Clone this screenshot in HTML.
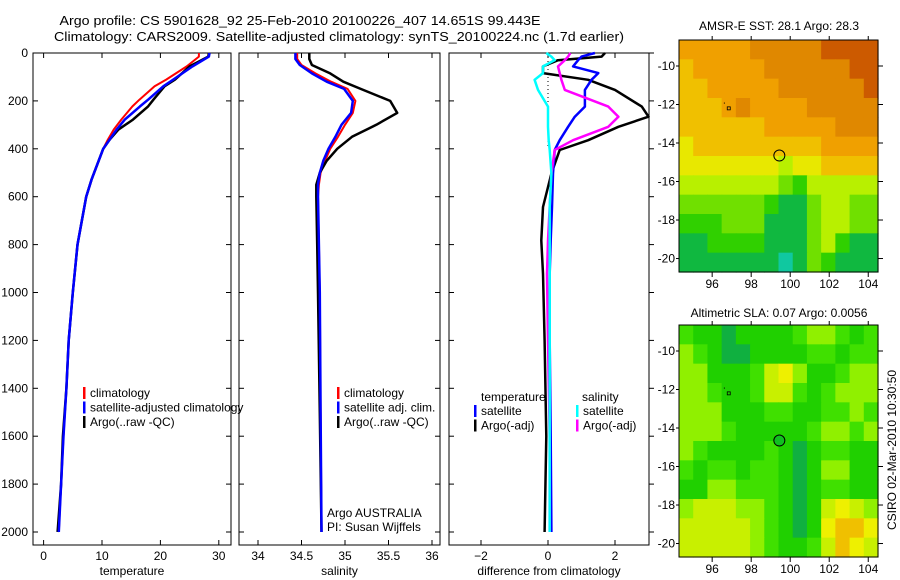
<!DOCTYPE html>
<html><head><meta charset="utf-8"><style>
html,body{margin:0;padding:0;background:#fff;}
svg{display:block;font-family:"Liberation Sans",sans-serif;}
text{font-size:12px;fill:#000;}
</style></head><body>
<svg id="fig" width="900" height="580" viewBox="0 0 900 580">
<text x="300" y="25" text-anchor="middle" textLength="481" lengthAdjust="spacingAndGlyphs" style="font-size:13px">Argo profile: CS 5901628_92 25-Feb-2010 20100226_407 14.651S 99.443E</text>
<text x="339" y="41" text-anchor="middle" textLength="570" lengthAdjust="spacingAndGlyphs" style="font-size:13px">Climatology: CARS2009. Satellite-adjusted climatology: synTS_20100224.nc (1.7d earlier)</text>
<g id="plots"></g>
<text x="779" y="30" text-anchor="middle">AMSR-E SST: 28.1 Argo: 28.3</text>
<text x="779" y="317" text-anchor="middle">Altimetric SLA: 0.07 Argo: 0.0056</text>
<text transform="translate(896,450) rotate(-90)" text-anchor="middle">CSIRO 02-Mar-2010 10:30:50</text>
</svg>
<script>
// ---- data ----
const tDepths=[0,15,56,111,139,195,223,278,320,362,400,529,600,800,1000,1200,1400,1600,1800,2000];
const tArgo=[28.3,28.2,25.0,22.5,20.7,18.8,17.9,15.3,12.8,11.3,10.2,8.2,7.3,5.8,5.0,4.3,3.9,3.3,3.0,2.4];
const tClim=[26.6,26.6,24.5,21.0,19.0,16.4,15.2,13.3,12.0,11.0,10.2,8.2,7.3,5.8,5.0,4.3,3.9,3.4,3.0,2.6];
const tSat=[28.4,28.3,25.5,22.2,20.5,17.9,16.5,13.9,12.5,11.3,10.2,8.2,7.3,5.8,5.0,4.3,3.9,3.4,3.0,2.6];
const sDepths=[0,25,50,85,120,150,200,250,300,350,400,450,500,550,600,800,1000,1500,2000];
const sArgo=[34.59,34.59,34.62,34.83,34.98,35.18,35.52,35.6,35.36,35.08,34.91,34.79,34.71,34.67,34.67,34.68,34.69,34.71,34.73];
const sClim=[34.45,34.45,34.5,34.66,34.84,35.03,35.12,35.09,35.0,34.92,34.83,34.77,34.72,34.7,34.69,34.7,34.71,34.72,34.73];
const sSat=[34.43,34.43,34.48,34.62,34.79,34.99,35.09,35.07,34.96,34.89,34.81,34.75,34.71,34.69,34.69,34.7,34.71,34.72,34.73];
const dDepths=[0,15,30,56,84,112,154,224,266,308,364,405,503,643,783,922,1200,1600,2000];
const dTArgo=[1.7,1.6,0.3,-0.15,-0.15,1.2,2.0,2.8,3.0,2.1,1.2,0.35,0.1,-0.15,-0.2,-0.15,-0.1,-0.05,-0.1];
const dTSat=[1.4,1.0,0.9,0.75,1.5,1.3,1.1,1.1,0.8,0.6,0.35,0.2,0.15,0.12,0.08,0.05,0.05,0.08,0.1];
const dSArgo=[0.67,0.6,0.5,0.3,0.35,0.4,0.5,1.8,2.1,1.8,0.75,0.2,0.1,0.05,0.0,-0.03,0.0,0.05,0.05];
const dSSat=[-0.05,0.1,0.2,-0.15,-0.15,-0.4,-0.3,0.0,0.0,0.0,0.02,0.05,0.1,0.05,0.05,0.05,0.05,0.05,0.05];
const depthTicks=[0,200,400,600,800,1000,1200,1400,1600,1800,2000];
const tTicks=[0,10,20,30];
const sTicks=[34,34.5,35,35.5,36];
const dTicks=[-2,0,2];
const lonTicks=[96,98,100,102,104];
const latTicks=[-10,-12,-14,-16,-18,-20];
const sstGrid=["77777888889999","67777788888899","66777778888889","66678777788888","66666677777888","56666666667777","55555554556666","44444443244444","33333321134433","22233311134433","11222211134211","11111110132111"];
const slaGrid=["21101111233212","32100111122122","33111245311233","33211244212333","33311122112232","33321111123323","32111121012211","21221221013311","11332221012211","34443321014543","44444321015665","44444321124654"];
const argoLon=99.443, argoLat=-14.651;

const NS='http://www.w3.org/2000/svg';
const root=document.getElementById('plots');
function el(tag,attrs,parent){const e=document.createElementNS(NS,tag);for(const k in attrs)e.setAttribute(k,attrs[k]);(parent||root).appendChild(e);return e;}
const y0=53, yk=0.2395;
const yD=d=>y0+d*yk;
function panel(name,x0,x1,vx,ticks,fmt,label,tickRight){
  const g=el('g',{});
  
  
  const box=el('rect',{x:x0,y:53,width:x1-x0,height:492,fill:'none',stroke:'#000','stroke-width':1},g);
  
  
  ticks.forEach(v=>{const x=vx(v);
    el('line',{x1:x,x2:x,y1:545,y2:540,stroke:'#000'},g);
    el('line',{x1:x,x2:x,y1:53,y2:58,stroke:'#000'},g);
    const t=el('text',{x:x,y:560,'text-anchor':'middle'},g);t.textContent=fmt(v);
    
    
  });
  depthTicks.forEach(d=>{const y=yD(d);
    el('line',{x1:x0,x2:x0+5,y1:y,y2:y,stroke:'#000'},g);
    if(tickRight) el('line',{x1:x1,x2:x1+5,y1:y,y2:y,stroke:'#000'},g);
    else el('line',{x1:x1,x2:x1-5,y1:y,y2:y,stroke:'#000'},g);
  });
  const l=el('text',{x:(x0+x1)/2,y:575,'text-anchor':'middle'},g);l.textContent=label;
  
  
  return g;
}
function line(g,name,depths,vals,vx,color,w){
  const pts=depths.map((d,i)=>vx(vals[i]).toFixed(1)+','+yD(d).toFixed(1)).join(' ');
  const p=el('polyline',{points:pts,fill:'none',stroke:color,'stroke-width':w,'stroke-linejoin':'round'},g);
  
  
}
function legend(g,x,entries,y){
  entries.forEach((e,i)=>{const yy=(y||397)+i*14.5;
    el('rect',{x:x,y:yy-10,width:2.5,height:12,fill:e[1]},g);
    const t=el('text',{x:x+7,y:yy},g);t.textContent=e[0];
    
    
  });
}
depthTicks.forEach(d=>{const t=el('text',{x:28,y:yD(d)+4,'text-anchor':'end'});t.textContent=d;
  
  });
const vT=v=>43.6+v*5.84;
const g1=panel('temperature-panel',33,231,vT,tTicks,v=>v,'temperature',false);
line(g1,'temp-climatology',tDepths,tClim,vT,'#f00',2);
line(g1,'temp-argo',tDepths,tArgo,vT,'#000',2.5);
line(g1,'temp-satellite',tDepths,tSat,vT,'#00f',2.5);
legend(g1,83,[['climatology','#f00'],['satellite-adjusted climatology','#00f'],['Argo(..raw -QC)','#000']]);
const vS=v=>258+(v-34)*87;
const g2=panel('salinity-panel',239,440,vS,sTicks,v=>v,'salinity',false);
line(g2,'sal-climatology',sDepths,sClim,vS,'#f00',2);
line(g2,'sal-argo',sDepths,sArgo,vS,'#000',2.5);
line(g2,'sal-satellite',sDepths,sSat,vS,'#00f',2.5);
legend(g2,337,[['climatology','#f00'],['satellite adj. clim.','#00f'],['Argo(..raw -QC)','#000']]);
{const a=el('text',{x:327,y:517},g2);a.textContent='Argo AUSTRALIA';
 const b=el('text',{x:327,y:531},g2);b.textContent='PI: Susan Wijffels';}
const vD=v=>548+v*33.5;
const g3=panel('difference-panel',449,649,vD,dTicks,v=>v===0?'0':(v<0?'\u2212'+(-v):v),'difference from climatology',true);
el('line',{x1:548,x2:548,y1:53,y2:yD(400),stroke:'#000','stroke-dasharray':'1,3'},g3);
line(g3,'diff-temp-argo',dDepths,dTArgo,vD,'#000',2.5);
line(g3,'diff-temp-satellite',dDepths,dTSat,vD,'#00f',2.5);
line(g3,'diff-sal-argo',dDepths,dSArgo,vD,'#f0f',2.5);
line(g3,'diff-sal-satellite',dDepths,dSSat,vD,'#0ff',2.5);
{const t=el('text',{x:481,y:401},g3);t.textContent='temperature';
 const s=el('text',{x:582,y:401},g3);s.textContent='salinity';}
legend(g3,474,[['satellite','#00f'],['Argo(-adj)','#000']],415);
legend(g3,576,[['satellite','#0ff'],['Argo(-adj)','#f0f']],415);
const sstCols={'0':'#10c8a0','1':'#10b840','2':'#30d000','3':'#70e000','4':'#b8f000','5':'#e8e800','6':'#f0c000','7':'#f0a000','8':'#e08800','9':'#cc5a00'};
const slaCols={'0':'#10b040','1':'#20d000','2':'#40e000','3':'#90f000','4':'#c8f000','5':'#eef000','6':'#f0c000','7':'#f0a000'};
function map(name,top,grid,cols,filled){
  const g=el('g',{});
  
  
  const L=679,R=878,B=top+232;
  const lonMin=94.3,lonMax=104.5,latTop=-8.65,latBot=-20.7;
  const mx=lo=>L+(lo-lonMin)/(lonMax-lonMin)*(R-L);
  const my=la=>top+(latTop-la)/(latTop-latBot)*(B-top);
  const nr=grid.length,nc=grid[0].length,cw=(R-L)/nc,ch=(B-top)/nr;
  grid.forEach((row,r)=>{for(let c=0;c<nc;c++){
    const cell=el('rect',{x:(L+c*cw).toFixed(2),y:(top+r*ch).toFixed(2),width:(cw+0.6).toFixed(2),height:(ch+0.6).toFixed(2),fill:cols[row[c]]},g);
    
    
  }});
  el('rect',{x:L,y:top,width:R-L,height:B-top,fill:'none',stroke:'#000'},g);
  lonTicks.forEach(v=>{const x=mx(v);el('line',{x1:x,x2:x,y1:B,y2:B+5,stroke:'#000'},g);
    el('line',{x1:x,x2:x,y1:top,y2:top-4,stroke:'#000'},g);
    const t=el('text',{x:x,y:B+16,'text-anchor':'middle'},g);t.textContent=v;
    
    });
  latTicks.forEach(v=>{const y=my(v);el('line',{x1:R,x2:R+5,y1:y,y2:y,stroke:'#000'},g);
    el('line',{x1:L,x2:L-3,y1:y,y2:y,stroke:'#000'},g);
    const t=el('text',{x:L-4,y:y+4,'text-anchor':'end'},g);t.textContent='-'+(-v);
    
    });
  el('rect',{x:mx(96.85)-1.5,y:my(-12.2)-1.5,width:3,height:3,fill:'none',stroke:'#000','stroke-width':0.8},g);
  el('rect',{x:mx(96.6),y:my(-11.9),width:1,height:1,fill:'#000'},g);
  const c=el('circle',{cx:mx(argoLon),cy:my(argoLat),r:5.5,fill:filled?'#10c020':'none',stroke:'#000','stroke-width':1},g);
  
  
}
map('sst-map',40,sstGrid,sstCols,false);
map('sla-map',325,slaGrid,slaCols,true);
</script>
</body></html>
